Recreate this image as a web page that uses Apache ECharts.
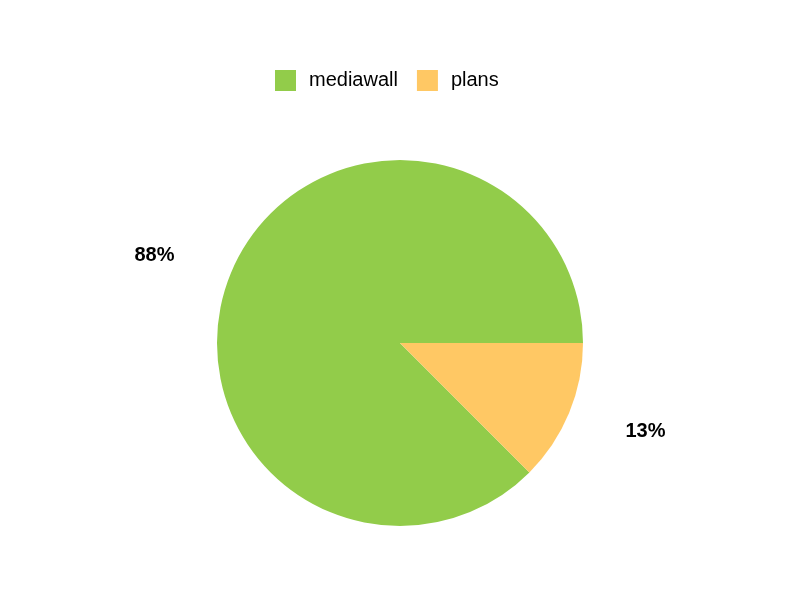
<!DOCTYPE html>
<html>
<head>
<meta charset="utf-8">
<script src="https://cdn.jsdelivr.net/npm/echarts@6/dist/echarts.min.js"></script>
<style>html,body{margin:0;padding:0;background:#fff}#c{width:800px;height:600px}</style>
</head>
<body>
<div id="c"></div>
<script>
var categories = ['mediawall', 'plans'];
var values = [7, 1];
var colors = ['#92CC4A', '#FFC864'];
var labelLines = [{length: 46, length2: 9}, {length: 48, length2: 7}];

var chart = echarts.init(document.getElementById('c'), null, {renderer: 'canvas'});
chart.setOption({
  animation: false,
  backgroundColor: '#ffffff',
  color: colors,
  legend: {
    data: categories,
    top: 65,
    left: 270,
    itemWidth: 21,
    itemHeight: 21,
    itemGap: 19,
    icon: 'rect',
    textStyle: {fontFamily: 'Liberation Sans, Arial, sans-serif', fontSize: 20, color: '#000', padding: [0, 0, 0, 8]}
  },
  series: [{
    type: 'pie',
    center: [400, 343],
    radius: 183,
    startAngle: 0,
    clockwise: false,
    avoidLabelOverlap: false,
    label: {
      show: true,
      position: 'outside',
      fontFamily: 'Liberation Sans, Arial, sans-serif',
      fontSize: 20,
      fontWeight: 'bold',
      color: '#000',
      formatter: function (p) { return Math.round(p.percent) + '%'; }
    },
    labelLine: {show: false},
    emphasis: {disabled: true},
    itemStyle: {borderWidth: 0},
    data: categories.map(function (c, i) {
      return {name: c, value: values[i], labelLine: {show: false, length: labelLines[i].length, length2: labelLines[i].length2}};
    })
  }]
});
</script>
</body>
</html>
